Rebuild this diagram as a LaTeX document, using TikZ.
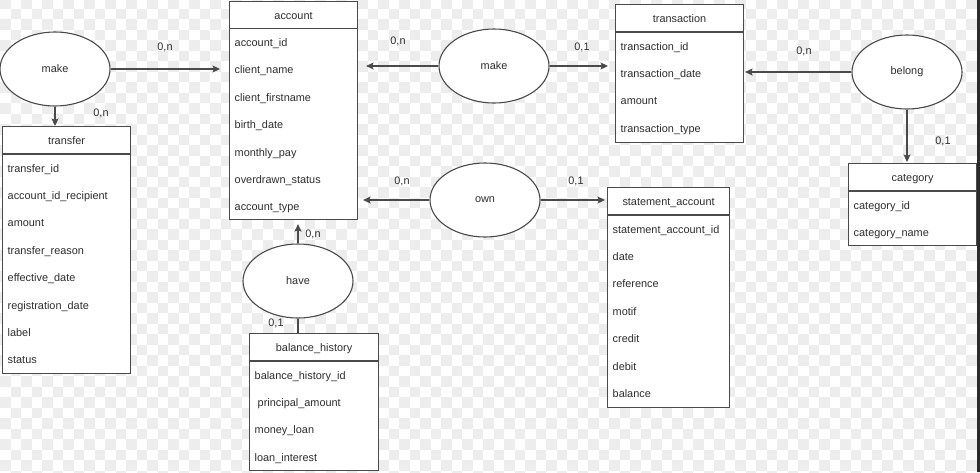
\documentclass[tikz,border=0pt]{standalone}
\usepackage{fontspec}
\setmainfont{Liberation Sans}
\usetikzlibrary{arrows.meta,shapes.geometric}
\definecolor{ink}{HTML}{2E2E2E}
\definecolor{edge}{HTML}{4A4A4A}
\definecolor{checker}{HTML}{EDEDED}
\definecolor{rim}{HTML}{2B2B2B}

% An entity table: name, x, y (top-left), width, height, title, fields
\newcommand\ertable[7]{%
  \node[tablebox, minimum width=#4, minimum height=#5, anchor=north west] (#1) at (#2,#3) {};
  \draw[tableline] ([yshift=-28pt]#1.north west) -- ([yshift=-28pt]#1.north east);
  \node[caption] (#1-title) at ([yshift=-18.5pt]#1.north) {#6};
  \foreach \field [count=\k] in {#7} {
    \node[field] (#1-\k) at ([xshift=5.5pt,yshift={-46pt-27.4pt*(\k-1)}]#1.north west) {\field};
  }%
}

\begin{document}
\begin{tikzpicture}[x=1pt,y=-1pt,
  font=\fontsize{10.9}{13}\selectfont,
  tablebox/.style={draw=edge, fill=white, line width=1.1pt, inner sep=0pt},
  tableline/.style={draw=edge, line width=1.1pt},
  caption/.style={text=ink, inner sep=0pt, anchor=base},
  field/.style={text=ink, inner sep=0pt, anchor=base west},
  relation/.style={ellipse, draw=edge, fill=white, line width=1.1pt,
                   minimum width=110pt, minimum height=74pt, inner sep=0pt, text=ink},
  card/.style={text=ink, inner sep=0pt},
  link/.style={draw=edge, line width=1.1pt, -{Stealth[length=7.5pt,width=7pt,inset=1.5pt]}},
  plain/.style={draw=edge, line width=1.1pt}]

\useasboundingbox (0,0) rectangle (980,472);

% checkered backdrop
\begin{scope}
  \clip (0,0) rectangle (980,472);
  \foreach \j in {0,...,45} {
    \pgfmathtruncatemacro\off{mod(\j,2)}
    \foreach \i in {0,2,...,92} {
      \fill[checker] ({10.5*(\i+\off)},{-1.8+10.5*\j}) rectangle ++(10.5,10.5);
    }
  }
  \fill[rim] (977,0) rectangle (980,472);
\end{scope}

% entities
\ertable{account}{229}{0.5}{128}{218.5}{account}
  {account\_id,client\_name,client\_firstname,birth\_date,monthly\_pay,overdrawn\_status,account\_type}
\ertable{transfer}{2}{126}{128}{247}{transfer}
  {transfer\_id,account\_id\_recipient,amount,transfer\_reason,effective\_date,registration\_date,label,status}
\ertable{balance}{249}{333}{129}{137}{balance\_history}
  {balance\_history\_id,\ principal\_amount,money\_loan,loan\_interest}
\ertable{transaction}{615}{4}{128}{138}{transaction}
  {transaction\_id,transaction\_date,amount,transaction\_type}
\ertable{statement}{607}{187}{122}{220}{statement\_account}
  {statement\_account\_id,date,reference,motif,credit,debit,balance}
\ertable{category}{848}{163}{128}{82}{category}
  {category\_id,category\_name}

% relations
\node[relation] (make1)  at (55,69)  {make};
\node[relation] (make2)  at (494,66) {make};
\node[relation] (own)    at (485,200) {own};
\node[relation] (belong) at (907,72) {belong};
\node[relation] (have)   at (298,281) {have};

% connectors
\draw[link, shorten >=9pt] (make1) -- (make1 -| account.west);
\draw[link] (make1) -- (make1 |- transfer.north);
\draw[link, shorten >=8pt] (make2) -- (make2 -| account.east);
\draw[link, shorten >=7pt] (make2) -- (make2 -| transaction.west);
\draw[link, shorten >=1pt] (belong) -- (belong -| transaction.east);
\draw[link, shorten >=1pt] (belong) -- (belong |- category.north);
\draw[link, shorten >=5pt] (own) -- (own -| account.east);
\draw[link, shorten >=2pt] (own) -- (own -| statement.west);
\draw[link, shorten >=4pt] (have) -- (have |- account.south);
\draw[plain] (have) -- (have |- balance.north);

% cardinalities
\node[card] (c1)  at (165,47)  {0,n};
\node[card] (c2)  at (101,113) {0,n};
\node[card] (c3)  at (398,41)  {0,n};
\node[card] (c4)  at (582,47)  {0,1};
\node[card] (c5)  at (804,51)  {0,n};
\node[card] (c6)  at (943,141) {0,1};
\node[card] (c7)  at (402,181) {0,n};
\node[card] (c8)  at (576,181) {0,1};
\node[card] (c9)  at (313,234) {0,n};
\node[card] (c10) at (276,323) {0,1};
\end{tikzpicture}
\end{document}
